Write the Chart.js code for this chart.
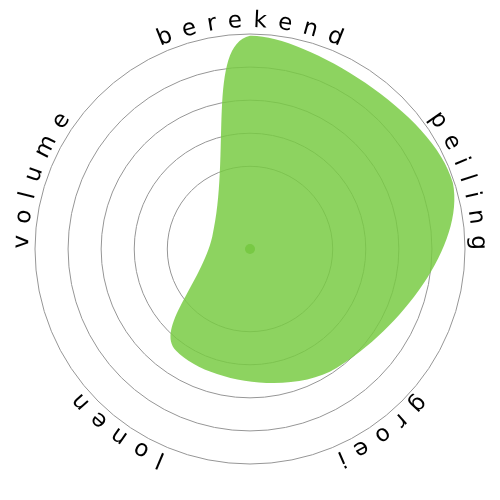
<!DOCTYPE html>
<html>
<head>
<meta charset="utf-8">
<script src="https://cdn.jsdelivr.net/npm/chart.js@4/dist/chart.umd.min.js"></script>
<style>
html,body{margin:0;padding:0;background:#fff;}
#wrap{width:500px;height:500px;}
</style>
</head>
<body>
<div id="wrap"><canvas id="c" width="500" height="500"></canvas></div>
<script>
const categories = ['berekend', 'peiling', 'groei', 'lonen', 'volume'];
const values = [129, 129, 89, 76, 24];
const centerDot = [0, null, null, null, null];
const gridTicks = [0, 50, 70, 90, 110, 130];
const scaleMin = 0;
const scaleMax = 130;

const curvedLabels = {
  id: 'curvedLabels',
  afterDraw(chart) {
    const s = chart.scales.r;
    const ctx = chart.ctx;
    const R = s.drawingArea + 7;
    const spacing = 10.8;
    ctx.save();
    ctx.font = '23px "DejaVu Sans"';
    ctx.fillStyle = '#000';
    ctx.textAlign = 'center';
    ctx.textBaseline = 'alphabetic';
    categories.forEach((label, i) => {
      const theta = s.getIndexAngle(i);
      const chars = Array.from(label);
      const widths = chars.map(ch => ctx.measureText(ch).width);
      const total = widths.reduce((a, b) => a + b, 0) + spacing * (chars.length - 1);
      let offset = -total / 2;
      chars.forEach((ch, k) => {
        const a = theta + (offset + widths[k] / 2) / R;
        ctx.save();
        ctx.translate(s.xCenter, s.yCenter);
        ctx.rotate(a);
        ctx.fillText(ch, 0, -R);
        ctx.restore();
        offset += widths[k] + spacing;
      });
    });
    ctx.restore();
  }
};

new Chart(document.getElementById('c'), {
  type: 'radar',
  data: {
    labels: categories,
    datasets: [
      {
        data: values,
        backgroundColor: 'rgba(121,203,68,0.85)',
        borderWidth: 0,
        fill: true,
        tension: 0.4,
        pointRadius: 0
      },
      {
        data: centerDot,
        showLine: false,
        fill: false,
        pointRadius: 5,
        pointBorderWidth: 0,
        pointBackgroundColor: 'rgb(114,186,70)'
      }
    ]
  },
  options: {
    responsive: false,
    animation: false,
    layout: { padding: { top: 34, bottom: 36, left: 35, right: 35 } },
    plugins: { legend: { display: false }, tooltip: { enabled: false } },
    scales: {
      r: {
        min: scaleMin,
        max: scaleMax,
        afterBuildTicks(scale) {
          scale.ticks = gridTicks.map(v => ({ value: v }));
        },
        ticks: { display: false },
        pointLabels: { display: false },
        angleLines: { display: false },
        grid: { color: 'rgb(150,150,150)', lineWidth: 1, circular: true }
      }
    }
  },
  plugins: [curvedLabels]
});
</script>
</body>
</html>
